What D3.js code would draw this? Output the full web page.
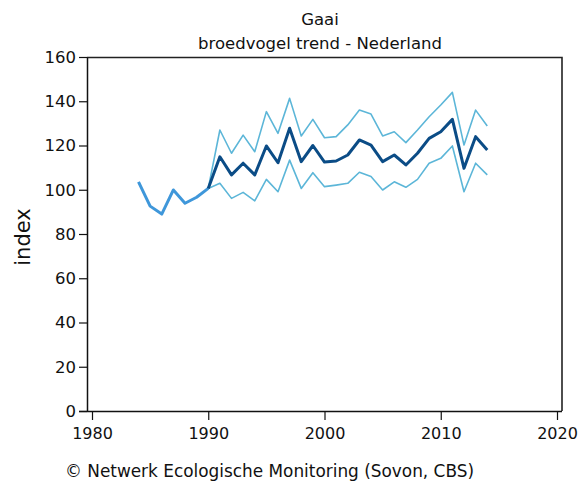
<!DOCTYPE html>
<html>
<head>
<meta charset="utf-8">
<script src="https://cdn.jsdelivr.net/npm/d3@7"></script>
<style>
  html, body { margin: 0; padding: 0; background: #fff; }
  svg text { font-family: "DejaVu Sans", Tahoma, sans-serif; fill: #111; }
</style>
</head>
<body>
<svg id="chart" width="579" height="486"></svg>
<script>
// Early years (before the confidence band starts)
const earlyYears = [1984, 1985, 1986, 1987, 1988, 1989, 1990];
const earlyIndex = [103.6, 92.6, 89, 99.9, 93.9, 96.6, 100.6];

// Trend years with index and confidence limits
const trendYears = [1990, 1991, 1992, 1993, 1994, 1995, 1996, 1997, 1998, 1999,
  2000, 2001, 2002, 2003, 2004, 2005, 2006, 2007, 2008, 2009,
  2010, 2011, 2012, 2013, 2014];
const trendIndex = [100.6, 114.9, 106.7, 112, 106.7, 119.8, 112.2, 127.8, 112.7, 120,
  112.5, 113, 115.7, 122.5, 120.2, 112.7, 115.7, 111.2, 116.5, 123.2,
  126.2, 131.8, 109.7, 124, 118];
const upperLimit = [100.6, 127, 116.5, 124.7, 117.2, 135.3, 125.5, 141.3, 124.3, 131.8,
  123.5, 124, 129.3, 136, 134.2, 124.3, 126.2, 121.3, 127, 133,
  138.3, 144, 120.2, 136, 128.8];
const lowerLimit = [100.6, 102.9, 96.1, 98.8, 95, 104.7, 99.1, 113.4, 100.6, 107.7,
  101.4, 102.1, 102.9, 107.9, 106, 99.9, 103.6, 101.1, 104.7, 112,
  114.2, 119.8, 99.1, 112, 106.7];

const xTicks = [1980, 1990, 2000, 2010, 2020];
const yTicks = [0, 20, 40, 60, 80, 100, 120, 140, 160];

const svg = d3.select("#chart");

const plot = { left: 87, right: 562, top: 57, bottom: 411 };

const x = d3.scaleLinear().domain([1980, 2020]).range([92, 557]);
const y = d3.scaleLinear().domain([0, 160]).range([plot.bottom, plot.top]);

// Frame (top and right edges)
svg.append("path")
  .attr("d", `M${plot.left},${plot.top + 0.5}H${plot.right}V${plot.bottom}`)
  .attr("fill", "none")
  .attr("stroke", "#222")
  .attr("stroke-width", 1.6);

// Y axis
const yAxis = svg.append("g")
  .attr("transform", `translate(${plot.left},0)`)
  .call(d3.axisLeft(y).tickValues(yTicks).tickSize(8).tickPadding(3).tickSizeOuter(0));
yAxis.select(".domain").attr("stroke", "#111").attr("stroke-width", 1.5);
yAxis.selectAll(".tick line").attr("stroke", "#111").attr("stroke-width", 1.2);
yAxis.selectAll(".tick text").style("font-size", "16.5px").attr("fill", "#111");

// X axis
const xAxis = svg.append("g")
  .attr("transform", `translate(0,${plot.bottom})`)
  .call(d3.axisBottom(x).tickValues(xTicks).tickFormat(d3.format("d")).tickSize(9).tickPadding(8).tickSizeOuter(0));
xAxis.select(".domain").attr("d", `M${plot.left - 8},0.5H${plot.right}`)
  .attr("stroke", "#111").attr("stroke-width", 1.5);
xAxis.selectAll(".tick line").attr("stroke", "#111").attr("stroke-width", 1.2);
xAxis.selectAll(".tick text").style("font-size", "16px").attr("fill", "#111");

const line = d3.line().x(d => x(d[0])).y(d => y(d[1]));

// Confidence limits
[upperLimit, lowerLimit].forEach(vals => {
  svg.append("path")
    .datum(trendYears.map((yr, i) => [yr, vals[i]]))
    .attr("d", line)
    .attr("fill", "none")
    .attr("stroke", "#5cb6d8")
    .attr("stroke-width", 1.6)
    .attr("stroke-linejoin", "round");
});

// Early segment
svg.append("path")
  .datum(earlyYears.map((yr, i) => [yr, earlyIndex[i]]))
  .attr("d", line)
  .attr("fill", "none")
  .attr("stroke", "#3f97da")
  .attr("stroke-width", 3)
  .attr("stroke-linejoin", "round");

// Trend index
svg.append("path")
  .datum(trendYears.map((yr, i) => [yr, trendIndex[i]]))
  .attr("d", line)
  .attr("fill", "none")
  .attr("stroke", "#0b4c86")
  .attr("stroke-width", 3)
  .attr("stroke-linejoin", "round");

// Titles
svg.append("text").attr("x", 320).attr("y", 25).attr("text-anchor", "middle")
  .style("font-size", "16.5px").text("Gaai");
svg.append("text").attr("x", 320).attr("y", 49).attr("text-anchor", "middle")
  .style("font-size", "16.5px").text("broedvogel trend - Nederland");

// Y label
svg.append("text")
  .attr("transform", "translate(30,237) rotate(-90)")
  .attr("text-anchor", "middle")
  .style("font-size", "21px").attr("fill", "#333")
  .text("index");

// Source
svg.append("text").attr("x", 65).attr("y", 477)
  .style("font-size", "16.9px").text("© Netwerk Ecologische Monitoring (Sovon, CBS)");
</script>
</body>
</html>
